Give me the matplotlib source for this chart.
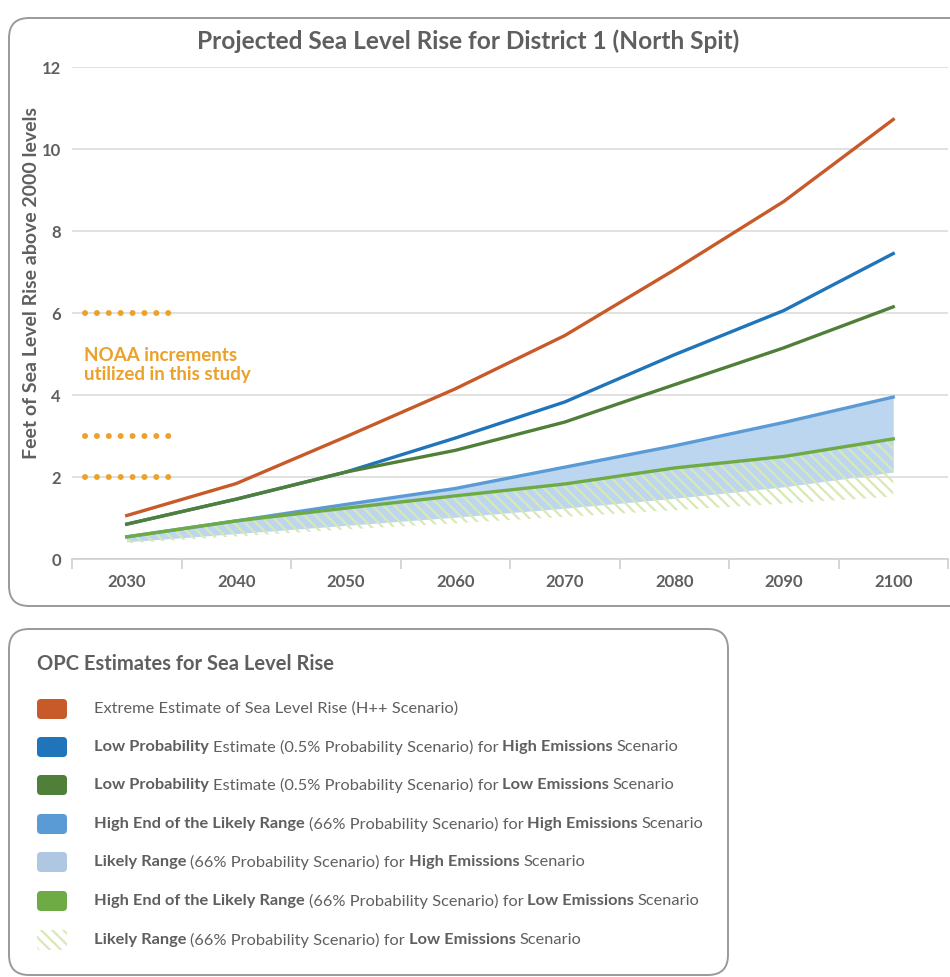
import numpy as np
import matplotlib
matplotlib.use("Agg")
import matplotlib.pyplot as plt
from matplotlib.patches import FancyBboxPatch
from matplotlib.transforms import IdentityTransform

# data (feet above 2000 levels)
years = [2030, 2040, 2050, 2060, 2070, 2080, 2090, 2100]
h_plus_plus = [1.06, 1.84, 2.98, 4.15, 5.45, 7.05, 8.72, 10.72]
high_em_low_prob = [0.85, 1.46, 2.12, 2.95, 3.83, 4.98, 6.06, 7.45]
low_em_low_prob = [0.85, 1.46, 2.12, 2.65, 3.34, 4.25, 5.15, 6.15]
high_em_likely_hi = [0.54, 0.93, 1.33, 1.72, 2.24, 2.76, 3.33, 3.95]
high_em_likely_lo = [0.42, 0.62, 0.82, 1.02, 1.24, 1.48, 1.76, 2.12]
low_em_likely_hi = [0.54, 0.93, 1.24, 1.54, 1.83, 2.22, 2.50, 2.93]
low_em_likely_lo = [0.38, 0.55, 0.72, 0.87, 1.03, 1.19, 1.35, 1.52]
noaa_levels = [2, 3, 6]
y_ticks = [0, 2, 4, 6, 8, 10, 12]

RED = "#c85a2a"
BLUE = "#1f74ba"
DKGREEN = "#4f7f38"
LTBLUE = "#5b9bd5"
PALEBLUE = "#bdd6ef"
SWATCH_PALE = "#afc7e1"
GREEN = "#6eab45"
HATCH = "#d8e8b6"
ORANGE = "#eba12a"
GRAY = "#5f5f5f"
FONT = "Lato"

plt.rcParams["font.family"] = [FONT, "DejaVu Sans"]
plt.rcParams["hatch.linewidth"] = 1.6

W, H = 950, 977
fig = plt.figure(figsize=(W / 100, H / 100), dpi=100)

# rounded panels (inches, origin bottom-left)
def panel(x0, y0, x1, y1):
    p = FancyBboxPatch((x0 / 100, (H - y1) / 100), (x1 - x0) / 100, (y1 - y0) / 100,
                       boxstyle="round,pad=0,rounding_size=0.2",
                       transform=fig.dpi_scale_trans, facecolor="white",
                       edgecolor="#9a9a9a", linewidth=1.4, zorder=-5)
    fig.patches.append(p)

panel(9, 18, 975, 606)
panel(9, 629, 728, 975)

# chart
ax = fig.add_axes([72 / W, 1 - 559 / H, 876 / W, 492 / H])
ax.set_facecolor("none")
x = np.arange(len(years))

ax.fill_between(x, high_em_likely_lo, high_em_likely_hi, color=PALEBLUE, lw=0, zorder=2)
ax.fill_between(x, low_em_likely_lo, low_em_likely_hi, facecolor="none",
                edgecolor=HATCH, hatch="\\\\\\", lw=0, zorder=3)
ax.plot(x, high_em_likely_hi, color=LTBLUE, lw=2.4, zorder=4)
ax.plot(x, low_em_likely_hi, color=GREEN, lw=2.4, zorder=5)
ax.plot(x, high_em_low_prob, color=BLUE, lw=2.4, zorder=5)
ax.plot(x, low_em_low_prob, color=DKGREEN, lw=2.4, zorder=6)
ax.plot(x, h_plus_plus, color=RED, lw=2.4, zorder=7)

# NOAA increments
for lvl in noaa_levels:
    ax.plot([-0.385, 0.382], [lvl, lvl], color=ORANGE, lw=4.3,
            linestyle=(0, (0.01, 1.98)), dash_capstyle="round", zorder=8)
ax.text(-0.39, 4.74, "NOAA increments\nutilized in this study", color=ORANGE,
        fontsize=13.5, fontweight="bold", va="center", ha="left",
        linespacing=1.12, zorder=8)

ax.set_xlim(-0.5, len(years) - 0.5)
ax.set_ylim(0, 12)
ax.set_yticks(y_ticks)
ax.set_yticklabels([str(v) for v in y_ticks])
ax.yaxis.grid(True, color="#dcdcdc", lw=1.2)
ax.set_axisbelow(True)
ax.tick_params(axis="y", length=0, pad=8, labelsize=12, labelcolor=GRAY)
ax.set_xticks(x)
ax.set_xticklabels([str(y) for y in years])
ax.set_xticks(np.arange(len(years) + 1) - 0.5, minor=True)
ax.tick_params(axis="x", which="major", length=0, pad=11, labelsize=12, labelcolor=GRAY)
ax.tick_params(axis="x", which="minor", length=7, color="#d0d0d0", width=1.2)
for lab in ax.get_xticklabels() + ax.get_yticklabels():
    lab.set_fontweight("bold")
for s in ["top", "right", "left"]:
    ax.spines[s].set_visible(False)
ax.spines["bottom"].set_color("#d0d0d0")
ax.spines["bottom"].set_linewidth(1.2)

fig.text(468 / W, 1 - 41 / H, "Projected Sea Level Rise for District 1 (North Spit)",
         ha="center", va="center", fontsize=17.6, fontweight="bold", color=GRAY)
fig.text(32 / W, 1 - 283 / H, "Feet of Sea Level Rise above 2000 levels",
         ha="center", va="center", rotation=90, fontsize=14, fontweight="bold", color=GRAY)

# legend panel
fig.text(37 / W, 1 - 664 / H, "OPC Estimates for Sea Level Rise", ha="left", va="center",
         fontsize=14.5, fontweight="bold", color=GRAY)

legend_colors = [RED, BLUE, DKGREEN, LTBLUE, SWATCH_PALE, GREEN, None]
legend_rows = [
    [("Extreme Estimate of Sea Level Rise (H++ Scenario)", False)],
    [("Low Probability", True), ("Estimate (0.5% Probability Scenario) for", False),
     ("High Emissions", True), ("Scenario", False)],
    [("Low Probability", True), ("Estimate (0.5% Probability Scenario) for", False),
     ("Low Emissions", True), ("Scenario", False)],
    [("High End of the Likely Range", True), ("(66% Probability Scenario) for", False),
     ("High Emissions", True), ("Scenario", False)],
    [("Likely Range", True), ("(66% Probability Scenario) for", False),
     ("High Emissions", True), ("Scenario", False)],
    [("High End of the Likely Range", True), ("(66% Probability Scenario) for", False),
     ("Low Emissions", True), ("Scenario", False)],
    [("Likely Range", True), ("(66% Probability Scenario) for", False),
     ("Low Emissions", True), ("Scenario", False)],
]
row_y = [709, 747, 785, 824, 862, 901, 940]

renderer = fig.canvas.get_renderer()
ident = IdentityTransform()
for col, parts, yp in zip(legend_colors, legend_rows, row_y):
    yc = H - yp
    if col is None:
        sw = FancyBboxPatch((37, yc - 10), 30, 20, boxstyle="round,pad=0,rounding_size=4",
                            transform=ident, facecolor="none", edgecolor=HATCH,
                            hatch="\\\\\\", lw=0)
    else:
        sw = FancyBboxPatch((37, yc - 10), 30, 20, boxstyle="round,pad=0,rounding_size=4",
                            transform=ident, facecolor=col, edgecolor="none")
    fig.patches.append(sw)
    xp = 94
    for txt, bold in parts:
        t = fig.text(xp, yc, txt, transform=ident, ha="left", va="center",
                     fontsize=11.8, color=GRAY, fontweight="bold" if bold else "normal")
        bb = t.get_window_extent(renderer)
        xp = bb.x1 + 3.8

fig.savefig("out.png", dpi=100)
